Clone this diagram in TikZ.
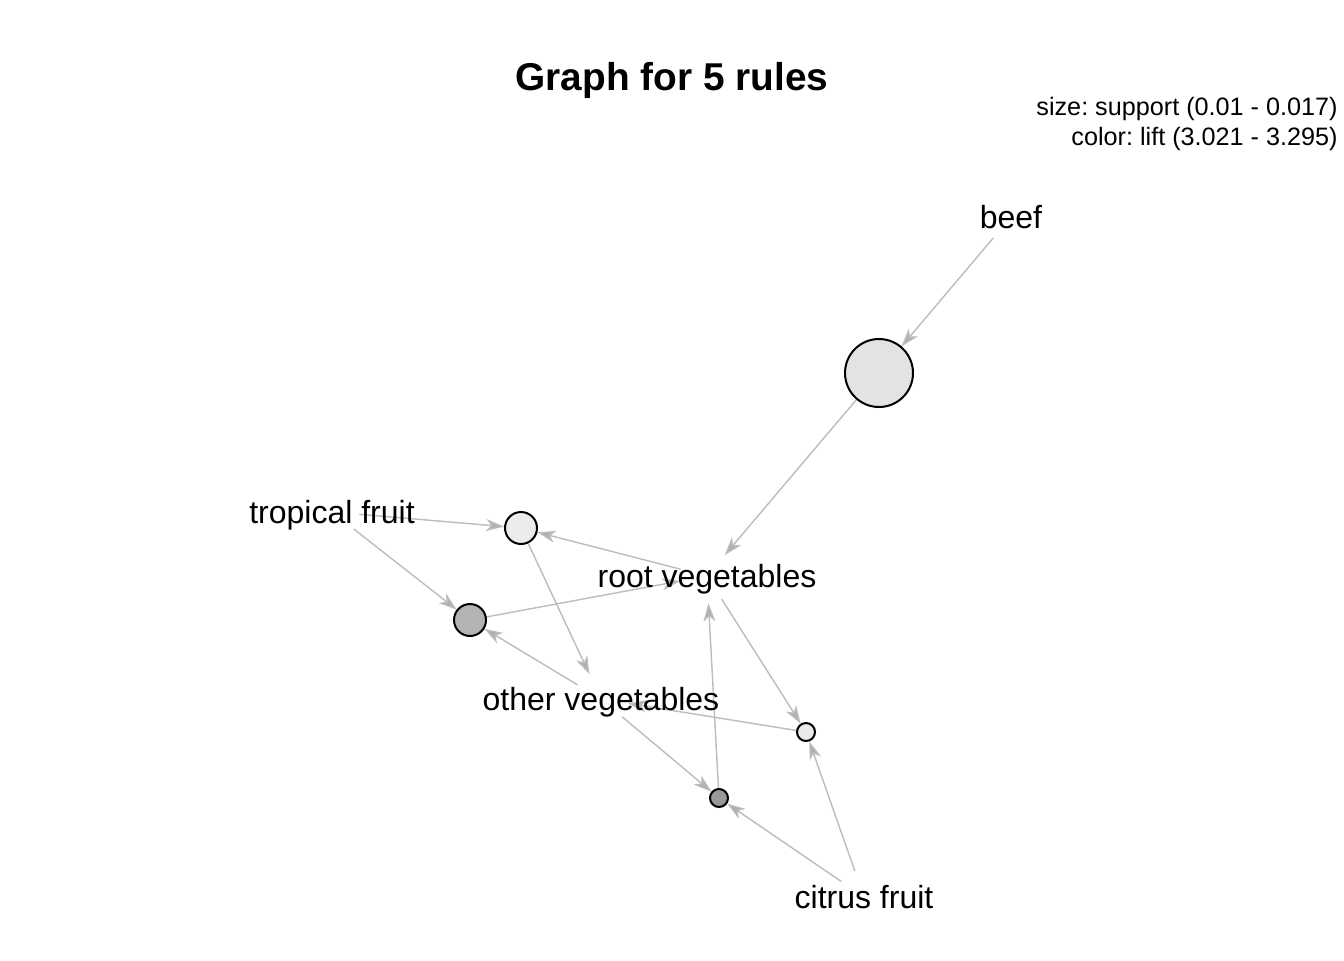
\documentclass[tikz,border=0pt]{standalone}
\usepackage{fontspec}
\setmainfont{Liberation Sans}
\usetikzlibrary{arrows.meta}
\usetikzlibrary{positioning}
\usetikzlibrary{backgrounds}

\definecolor{edgegray}{RGB}{188,188,188}
\definecolor{tipgray}{RGB}{175,175,175}
\definecolor{ruleone}{RGB}{227,227,227}
\definecolor{ruletwo}{RGB}{236,236,236}
\definecolor{rulethree}{RGB}{179,179,179}
\definecolor{rulefour}{RGB}{234,234,234}
\definecolor{rulefive}{RGB}{153,153,153}
\frenchspacing

\begin{document}
\begin{tikzpicture}[x=0.5pt,y=-0.5pt,
  item/.style={circle,draw=none,inner sep=0pt,minimum size=27pt},
  itemtext/.style={font=\fontsize{16pt}{19pt}\selectfont,text height=11pt,text depth=0pt,inner sep=0pt},
  rule/.style={circle,draw=black,line width=1pt,inner sep=0pt},
  edge/.style={draw=edgegray,line width=0.7pt,-{Stealth[length=9pt,width=6pt,inset=2.5pt,fill=tipgray]}},
  legend/.style={font=\fontsize{12.6pt}{15pt}\selectfont,anchor=base east,inner sep=0pt}]
\useasboundingbox (0,0) rectangle (1344,960);
\node[font=\fontsize{19.4pt}{23pt}\selectfont\bfseries,anchor=base,inner sep=0pt] (title) at (672,90) {Graph for 5 rules};
\node[legend] (legsize) at (1338,115) {size: support (0.01 - 0.017)};
\node[legend] (legcolor) at (1338,145) {color: lift (3.021 - 3.295)};

\node[item,label={[itemtext]center:beef}] (beef) at (1011,217) {};
\node[item,label={[itemtext]center:tropical fruit}] (tropical) at (332,512) {};
\node[item,label={[itemtext]center:root vegetables}] (root) at (707,576) {};
\node[item,label={[itemtext]center:other vegetables}] (other) at (601,699) {};
\node[item,label={[itemtext]center:citrus fruit}] (citrus) at (864,897) {};

\node[rule,minimum size=34pt,fill=ruleone] (r1) at (879,373) {};
\node[rule,minimum size=16pt,fill=ruletwo] (r2) at (521,528) {};
\node[rule,minimum size=16pt,fill=rulethree] (r3) at (470,620) {};
\node[rule,minimum size=9pt,fill=rulefour] (r4) at (806,732) {};
\node[rule,minimum size=9pt,fill=rulefive] (r5) at (719,798) {};

\begin{scope}[on background layer]
\draw[edge] (beef) -- (r1);
\draw[edge] (r1) -- (root);
\draw[edge] (tropical) -- (r2);
\draw[edge] (root) -- (r2);
\draw[edge] (r2) -- (other);
\draw[edge] (tropical) -- (r3);
\draw[edge] (other) -- (r3);
\draw[edge] (r3) -- (root);
\draw[edge] (root) -- (r4);
\draw[edge] (citrus) -- (r4);
\draw[edge] (r4) -- (other);
\draw[edge] (other) -- (r5);
\draw[edge] (citrus) -- (r5);
\draw[edge] (r5) -- (root);
\end{scope}
\end{tikzpicture}
\end{document}
